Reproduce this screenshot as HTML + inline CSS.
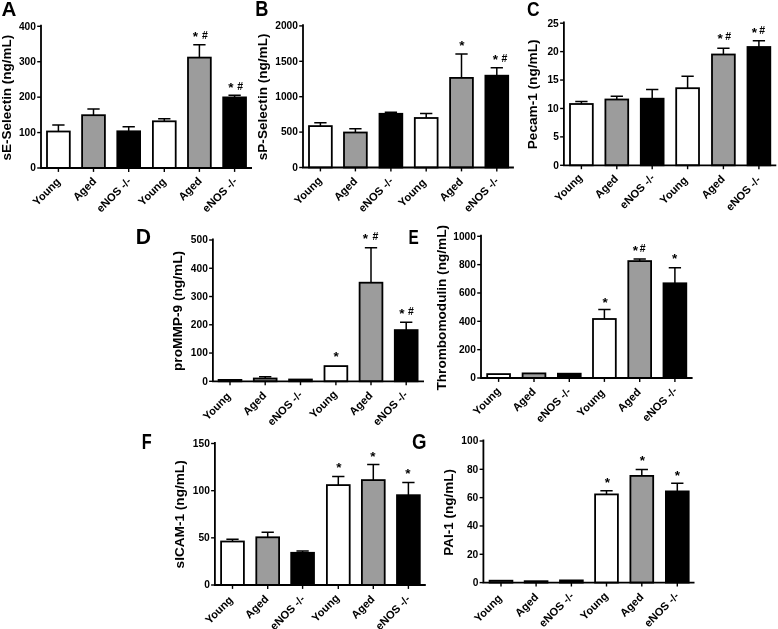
<!DOCTYPE html>
<html><head><meta charset="utf-8"><style>
html,body{margin:0;padding:0;background:#fff;}
body{width:778px;height:629px;overflow:hidden;}
svg{display:block;will-change:transform;}
text{font-family:"Liberation Sans", sans-serif;font-weight:bold;fill:#000;}
.a{stroke:#000;stroke-width:1.8;fill:none;stroke-linecap:square;}
.t{stroke:#000;stroke-width:1.4;fill:none;}
.e{stroke:#000;stroke-width:1.5;fill:none;}
.b{stroke:#000;stroke-width:1.8;}
.tl{text-anchor:end;font-size:10.2px;}
.st{font-size:13.5px;font-weight:bold;text-anchor:middle;}
.hs{font-size:10.5px;font-weight:bold;text-anchor:middle;}
.xl{font-size:11.1px;text-anchor:end;}
.yl{text-anchor:start;}
.L{font-size:20.0px;}
</style></head><body>
<svg width="778" height="629" viewBox="0 0 778 629">
<g><path d="M58.4 131.6V124.9M52.25 124.9H64.55" class="e"/><rect x="47" y="131.5" width="22.8" height="36.5" fill="#fff" class="b"/><path d="M58.4 168V171.9" class="t"/><text x="61.1" y="182.4" class="xl" transform="rotate(-45 61.1 182.4)">Young</text><path d="M93.5 115.3V108.9M87.35 108.9H99.65" class="e"/><rect x="82.1" y="115.2" width="22.8" height="52.8" fill="#9c9c9c" class="b"/><path d="M93.5 168V171.9" class="t"/><text x="97" y="182" class="xl" transform="rotate(-45 97 182)">Aged</text><path d="M128.7 131.4V126.8M122.55 126.8H134.85" class="e"/><rect x="117.3" y="131.3" width="22.8" height="36.7" fill="#000" class="b"/><path d="M128.7 168V171.9" class="t"/><text x="131.9" y="182" class="xl" transform="rotate(-45 131.9 182)">eNOS -/-</text><path d="M164.3 121.4V118.8M158.15 118.8H170.45" class="e"/><rect x="152.9" y="121.3" width="22.8" height="46.7" fill="#fff" class="b"/><path d="M164.3 168V171.9" class="t"/><text x="166.7" y="182.4" class="xl" transform="rotate(-45 166.7 182.4)">Young</text><path d="M199.4 57.7V44.8M193.25 44.8H205.55" class="e"/><rect x="188" y="57.6" width="22.8" height="110.4" fill="#9c9c9c" class="b"/><path d="M199.4 168V171.9" class="t"/><text x="202.5" y="181.6" class="xl" transform="rotate(-45 202.5 181.6)">Aged</text><path d="M234.6 97.5V95.3M228.45 95.3H240.75" class="e"/><rect x="223.2" y="97.4" width="22.8" height="70.6" fill="#000" class="b"/><path d="M234.6 168V171.9" class="t"/><text x="237.8" y="182" class="xl" transform="rotate(-45 237.8 182)">eNOS -/-</text><text x="195.4" y="40.9" class="st">*</text><text x="230.8" y="91.8" class="st">*</text><text x="205" y="38.7" class="hs">#</text><text x="240.25" y="89.8" class="hs">#</text><path d="M41 25.6V168H251.1" class="a"/><path d="M37.2 168H41" class="t"/><text x="35.9" y="171.3" class="tl">0</text><path d="M37.2 132.57H41" class="t"/><text x="35.9" y="135.88" class="tl">100</text><path d="M37.2 97.15H41" class="t"/><text x="35.9" y="100.45" class="tl">200</text><path d="M37.2 61.73H41" class="t"/><text x="35.9" y="65.03" class="tl">300</text><path d="M37.2 26.3H41" class="t"/><text x="35.9" y="29.6" class="tl">400</text><text class="yl" style="font-size:13.46px" transform="translate(10.6 160.44) rotate(-90)">sE-Selectin (ng/mL)</text><text class="L" transform="translate(1.49 16.2) scale(1.030 1.036)">A</text></g>
<g><path d="M320.4 126.2V122.8M314.25 122.8H326.55" class="e"/><rect x="309" y="126.1" width="22.8" height="41.4" fill="#fff" class="b"/><path d="M320.4 167.5V171.4" class="t"/><text x="322.5" y="181.3" class="xl" transform="rotate(-45 322.5 181.3)">Young</text><path d="M355.4 132.6V128.8M349.25 128.8H361.55" class="e"/><rect x="344" y="132.5" width="22.8" height="35" fill="#9c9c9c" class="b"/><path d="M355.4 167.5V171.4" class="t"/><text x="358" y="182" class="xl" transform="rotate(-45 358 182)">Aged</text><path d="M390.9 113.9V112.3M384.75 112.3H397.05" class="e"/><rect x="379.5" y="113.8" width="22.8" height="53.7" fill="#000" class="b"/><path d="M390.9 167.5V171.4" class="t"/><text x="393.9" y="181.7" class="xl" transform="rotate(-45 393.9 181.7)">eNOS -/-</text><path d="M426.2 118.1V113.6M420.05 113.6H432.35" class="e"/><rect x="414.8" y="118" width="22.8" height="49.5" fill="#fff" class="b"/><path d="M426.2 167.5V171.4" class="t"/><text x="426.7" y="183.3" class="xl" transform="rotate(-45 426.7 183.3)">Young</text><path d="M461.5 78V53.9M455.35 53.9H467.65" class="e"/><rect x="450.1" y="77.9" width="22.8" height="89.6" fill="#9c9c9c" class="b"/><path d="M461.5 167.5V171.4" class="t"/><text x="463.7" y="182.4" class="xl" transform="rotate(-45 463.7 182.4)">Aged</text><path d="M496.8 75.8V67.8M490.65 67.8H502.95" class="e"/><rect x="485.4" y="75.7" width="22.8" height="91.8" fill="#000" class="b"/><path d="M496.8 167.5V171.4" class="t"/><text x="499.4" y="181.7" class="xl" transform="rotate(-45 499.4 181.7)">eNOS -/-</text><text x="461.8" y="49.65" class="st">*</text><text x="495.5" y="64.45" class="st">*</text><text x="504.35" y="61.8" class="hs">#</text><path d="M303 25.2V167.5H513" class="a"/><path d="M299.2 167.5H303" class="t"/><text x="297.9" y="170.8" class="tl">0</text><path d="M299.2 132.1H303" class="t"/><text x="297.9" y="135.4" class="tl">500</text><path d="M299.2 96.7H303" class="t"/><text x="297.9" y="100" class="tl">1000</text><path d="M299.2 61.3H303" class="t"/><text x="297.9" y="64.6" class="tl">1500</text><path d="M299.2 25.9H303" class="t"/><text x="297.9" y="29.2" class="tl">2000</text><text class="yl" style="font-size:13.59px" transform="translate(267 160.24) rotate(-90)">sP-Selectin (ng/mL)</text><text class="L" transform="translate(255.32 15.8) scale(0.910 1.072)">B</text></g>
<g><path d="M581.4 104.1V101.6M575.25 101.6H587.55" class="e"/><rect x="570" y="104" width="22.8" height="61.3" fill="#fff" class="b"/><path d="M581.4 165.3V169.2" class="t"/><text x="583" y="178.4" class="xl" transform="rotate(-45 583 178.4)">Young</text><path d="M616.8 99.6V96.3M610.65 96.3H622.95" class="e"/><rect x="605.4" y="99.5" width="22.8" height="65.8" fill="#9c9c9c" class="b"/><path d="M616.8 165.3V169.2" class="t"/><text x="618.9" y="179.4" class="xl" transform="rotate(-45 618.9 179.4)">Aged</text><path d="M652.2 98.8V89.5M646.05 89.5H658.35" class="e"/><rect x="640.8" y="98.7" width="22.8" height="66.6" fill="#000" class="b"/><path d="M652.2 165.3V169.2" class="t"/><text x="655.3" y="178.5" class="xl" transform="rotate(-45 655.3 178.5)">eNOS -/-</text><path d="M687.6 88.3V76.2M681.45 76.2H693.75" class="e"/><rect x="676.2" y="88.2" width="22.8" height="77.1" fill="#fff" class="b"/><path d="M687.6 165.3V169.2" class="t"/><text x="688.2" y="180.9" class="xl" transform="rotate(-45 688.2 180.9)">Young</text><path d="M723.4 54.6V48.3M717.25 48.3H729.55" class="e"/><rect x="712" y="54.5" width="22.8" height="110.8" fill="#9c9c9c" class="b"/><path d="M723.4 165.3V169.2" class="t"/><text x="725.5" y="179.8" class="xl" transform="rotate(-45 725.5 179.8)">Aged</text><path d="M758.9 47.1V40.85M752.75 40.85H765.05" class="e"/><rect x="747.5" y="47" width="22.8" height="118.3" fill="#000" class="b"/><path d="M758.9 165.3V169.2" class="t"/><text x="761.4" y="180.5" class="xl" transform="rotate(-45 761.4 180.5)">eNOS -/-</text><text x="720.2" y="42.95" class="st">*</text><text x="754.3" y="37.2" class="st">*</text><text x="728.1" y="39.7" class="hs">#</text><text x="762.1" y="34" class="hs">#</text><path d="M563.9 22.5V165.3H775.4" class="a"/><path d="M560.1 165.3H563.9" class="t"/><text x="558.8" y="168.6" class="tl">0</text><path d="M560.1 136.88H563.9" class="t"/><text x="558.8" y="140.18" class="tl">5</text><path d="M560.1 108.46H563.9" class="t"/><text x="558.8" y="111.76" class="tl">10</text><path d="M560.1 80.04H563.9" class="t"/><text x="558.8" y="83.34" class="tl">15</text><path d="M560.1 51.62H563.9" class="t"/><text x="558.8" y="54.92" class="tl">20</text><path d="M560.1 23.2H563.9" class="t"/><text x="558.8" y="26.5" class="tl">25</text><text class="yl" style="font-size:13.64px" transform="translate(537.3 149.25) rotate(-90)">Pecam-1 (ng/mL)</text><text class="L" transform="translate(527.1 15.59) scale(0.870 1.056)">C</text></g>
<g><rect x="218.6" y="379.9" width="22.8" height="1.4" fill="#fff" class="b"/><path d="M230 381.3V385.2" class="t"/><text x="231.3" y="397" class="xl" transform="rotate(-45 231.3 397)">Young</text><path d="M265.2 378.6V376.8M259.05 376.8H271.35" class="e"/><rect x="253.8" y="378.5" width="22.8" height="2.8" fill="#9c9c9c" class="b"/><path d="M265.2 381.3V385.2" class="t"/><text x="267" y="396.3" class="xl" transform="rotate(-45 267 396.3)">Aged</text><rect x="289.1" y="379.5" width="22.8" height="1.8" fill="#000" class="b"/><path d="M300.5 381.3V385.2" class="t"/><text x="303" y="395.3" class="xl" transform="rotate(-45 303 395.3)">eNOS -/-</text><rect x="324.5" y="366.1" width="22.8" height="15.2" fill="#fff" class="b"/><path d="M335.9 381.3V385.2" class="t"/><text x="337.9" y="395" class="xl" transform="rotate(-45 337.9 395)">Young</text><path d="M371 282.8V247.7M364.85 247.7H377.15" class="e"/><rect x="359.6" y="282.7" width="22.8" height="98.6" fill="#9c9c9c" class="b"/><path d="M371 381.3V385.2" class="t"/><text x="373.4" y="396.3" class="xl" transform="rotate(-45 373.4 396.3)">Aged</text><path d="M406.2 330.2V322.3M400.05 322.3H412.35" class="e"/><rect x="394.8" y="330.1" width="22.8" height="51.2" fill="#000" class="b"/><path d="M406.2 381.3V385.2" class="t"/><text x="408.4" y="395.3" class="xl" transform="rotate(-45 408.4 395.3)">eNOS -/-</text><text x="336.1" y="360.8" class="st">*</text><text x="365.5" y="243.2" class="st">*</text><text x="401.8" y="318.4" class="st">*</text><text x="375.3" y="240" class="hs">#</text><text x="410.8" y="315.4" class="hs">#</text><path d="M212.9 239.3V381.3H423.1" class="a"/><path d="M209.1 381.3H212.9" class="t"/><text x="207.8" y="384.6" class="tl">0</text><path d="M209.1 353.04H212.9" class="t"/><text x="207.8" y="356.34" class="tl">100</text><path d="M209.1 324.78H212.9" class="t"/><text x="207.8" y="328.08" class="tl">200</text><path d="M209.1 296.52H212.9" class="t"/><text x="207.8" y="299.82" class="tl">300</text><path d="M209.1 268.26H212.9" class="t"/><text x="207.8" y="271.56" class="tl">400</text><path d="M209.1 240H212.9" class="t"/><text x="207.8" y="243.3" class="tl">500</text><text class="yl" style="font-size:13.70px" transform="translate(181.7 371.06) rotate(-90)">proMMP-9 (ng/mL)</text><text class="L" transform="translate(135.83 243.9) scale(1.057 1.094)">D</text></g>
<g><rect x="487.2" y="374.1" width="22.8" height="3.9" fill="#fff" class="b"/><path d="M498.6 378V381.9" class="t"/><text x="501.4" y="391.8" class="xl" transform="rotate(-45 501.4 391.8)">Young</text><rect x="522.6" y="373.4" width="22.8" height="4.6" fill="#9c9c9c" class="b"/><path d="M534 378V381.9" class="t"/><text x="536.5" y="392.4" class="xl" transform="rotate(-45 536.5 392.4)">Aged</text><rect x="557.9" y="373.7" width="22.8" height="4.3" fill="#000" class="b"/><path d="M569.3 378V381.9" class="t"/><text x="571.5" y="392.2" class="xl" transform="rotate(-45 571.5 392.2)">eNOS -/-</text><path d="M604.4 319.1V309.5M598.25 309.5H610.55" class="e"/><rect x="593" y="319" width="22.8" height="59" fill="#fff" class="b"/><path d="M604.4 378V381.9" class="t"/><text x="605.4" y="393.5" class="xl" transform="rotate(-45 605.4 393.5)">Young</text><path d="M639.7 261.2V258.9M633.55 258.9H645.85" class="e"/><rect x="628.3" y="261.1" width="22.8" height="116.9" fill="#9c9c9c" class="b"/><path d="M639.7 378V381.9" class="t"/><text x="641.6" y="392.8" class="xl" transform="rotate(-45 641.6 392.8)">Aged</text><path d="M674.9 283.4V267.8M668.75 267.8H681.05" class="e"/><rect x="663.5" y="283.3" width="22.8" height="94.7" fill="#000" class="b"/><path d="M674.9 378V381.9" class="t"/><text x="677.8" y="391.4" class="xl" transform="rotate(-45 677.8 391.4)">eNOS -/-</text><text x="605.2" y="306.7" class="st">*</text><text x="635.3" y="255.2" class="st">*</text><text x="674.7" y="263.2" class="st">*</text><text x="642.7" y="252.2" class="hs">#</text><path d="M481 235.6V378H691.7" class="a"/><path d="M477.2 378H481" class="t"/><text x="475.9" y="381.3" class="tl">0</text><path d="M477.2 349.66H481" class="t"/><text x="475.9" y="352.96" class="tl">200</text><path d="M477.2 321.32H481" class="t"/><text x="475.9" y="324.62" class="tl">400</text><path d="M477.2 292.98H481" class="t"/><text x="475.9" y="296.28" class="tl">600</text><path d="M477.2 264.64H481" class="t"/><text x="475.9" y="267.94" class="tl">800</text><path d="M477.2 236.3H481" class="t"/><text x="475.9" y="239.6" class="tl">1000</text><text class="yl" style="font-size:13.61px" transform="translate(445.8 390.54) rotate(-90)">Thrombomodulin (ng/mL)</text><text class="L" transform="translate(408.5 244.1) scale(0.770 1.051)">E</text></g>
<g><path d="M232.5 541.6V539.3M226.35 539.3H238.65" class="e"/><rect x="221.1" y="541.5" width="22.8" height="43.5" fill="#fff" class="b"/><path d="M232.5 585V588.9" class="t"/><text x="233.5" y="600.6" class="xl" transform="rotate(-45 233.5 600.6)">Young</text><path d="M267.7 537.4V532.3M261.55 532.3H273.85" class="e"/><rect x="256.3" y="537.3" width="22.8" height="47.7" fill="#9c9c9c" class="b"/><path d="M267.7 585V588.9" class="t"/><text x="269.2" y="599.6" class="xl" transform="rotate(-45 269.2 599.6)">Aged</text><path d="M302.6 552.9V551.1M296.45 551.1H308.75" class="e"/><rect x="291.2" y="552.8" width="22.8" height="32.2" fill="#000" class="b"/><path d="M302.6 585V588.9" class="t"/><text x="305.5" y="599.7" class="xl" transform="rotate(-45 305.5 599.7)">eNOS -/-</text><path d="M338.3 485.2V476.4M332.15 476.4H344.45" class="e"/><rect x="326.9" y="485.1" width="22.8" height="99.9" fill="#fff" class="b"/><path d="M338.3 585V588.9" class="t"/><text x="340" y="598.7" class="xl" transform="rotate(-45 340 598.7)">Young</text><path d="M373.3 480.2V464.4M367.15 464.4H379.45" class="e"/><rect x="361.9" y="480.1" width="22.8" height="104.9" fill="#9c9c9c" class="b"/><path d="M373.3 585V588.9" class="t"/><text x="375.4" y="599.9" class="xl" transform="rotate(-45 375.4 599.9)">Aged</text><path d="M408.4 495.3V482.4M402.25 482.4H414.55" class="e"/><rect x="397" y="495.2" width="22.8" height="89.8" fill="#000" class="b"/><path d="M408.4 585V588.9" class="t"/><text x="410.9" y="599.7" class="xl" transform="rotate(-45 410.9 599.7)">eNOS -/-</text><text x="338.9" y="471.6" class="st">*</text><text x="373" y="460.7" class="st">*</text><text x="408" y="477.8" class="st">*</text><path d="M214.9 442.8V585H424.9" class="a"/><path d="M211.1 585H214.9" class="t"/><text x="209.8" y="588.3" class="tl">0</text><path d="M211.1 537.83H214.9" class="t"/><text x="209.8" y="541.13" class="tl">50</text><path d="M211.1 490.67H214.9" class="t"/><text x="209.8" y="493.97" class="tl">100</text><path d="M211.1 443.5H214.9" class="t"/><text x="209.8" y="446.8" class="tl">150</text><text class="yl" style="font-size:13.61px" transform="translate(183.7 568.44) rotate(-90)">sICAM-1 (ng/mL)</text><text class="L" transform="translate(141.74 448.91) scale(0.814 1.080)">F</text></g>
<g><rect x="489.6" y="580.7" width="22.8" height="1.9" fill="#fff" class="b"/><path d="M501 582.6V586.5" class="t"/><text x="502.5" y="599" class="xl" transform="rotate(-45 502.5 599)">Young</text><rect x="524.7" y="581.2" width="22.8" height="1.4" fill="#9c9c9c" class="b"/><path d="M536.1 582.6V586.5" class="t"/><text x="539.1" y="597.8" class="xl" transform="rotate(-45 539.1 597.8)">Aged</text><rect x="560" y="580.4" width="22.8" height="2.2" fill="#000" class="b"/><path d="M571.4 582.6V586.5" class="t"/><text x="574.5" y="596.7" class="xl" transform="rotate(-45 574.5 596.7)">eNOS -/-</text><path d="M606.5 494.5V490.7M600.35 490.7H612.65" class="e"/><rect x="595.1" y="494.4" width="22.8" height="88.2" fill="#fff" class="b"/><path d="M606.5 582.6V586.5" class="t"/><text x="608.7" y="596.7" class="xl" transform="rotate(-45 608.7 596.7)">Young</text><path d="M641.8 476V469.4M635.65 469.4H647.95" class="e"/><rect x="630.4" y="475.9" width="22.8" height="106.7" fill="#9c9c9c" class="b"/><path d="M641.8 582.6V586.5" class="t"/><text x="644.2" y="597.8" class="xl" transform="rotate(-45 644.2 597.8)">Aged</text><path d="M677.3 491.5V483.2M671.15 483.2H683.45" class="e"/><rect x="665.9" y="491.4" width="22.8" height="91.2" fill="#000" class="b"/><path d="M677.3 582.6V586.5" class="t"/><text x="679.7" y="596.7" class="xl" transform="rotate(-45 679.7 596.7)">eNOS -/-</text><text x="607.3" y="487.3" class="st">*</text><text x="642.4" y="465.3" class="st">*</text><text x="677.4" y="480.4" class="st">*</text><path d="M483.4 440.3V582.6H693.6" class="a"/><path d="M479.6 582.6H483.4" class="t"/><text x="478.3" y="585.9" class="tl">0</text><path d="M479.6 554.28H483.4" class="t"/><text x="478.3" y="557.58" class="tl">20</text><path d="M479.6 525.96H483.4" class="t"/><text x="478.3" y="529.26" class="tl">40</text><path d="M479.6 497.64H483.4" class="t"/><text x="478.3" y="500.94" class="tl">60</text><path d="M479.6 469.32H483.4" class="t"/><text x="478.3" y="472.62" class="tl">80</text><path d="M479.6 441H483.4" class="t"/><text x="478.3" y="444.3" class="tl">100</text><text class="yl" style="font-size:13.47px" transform="translate(453 555.64) rotate(-90)">PAI-1 (ng/mL)</text><text class="L" transform="translate(412.05 448.99) scale(0.933 1.070)">G</text></g>
</svg>
</body></html>
